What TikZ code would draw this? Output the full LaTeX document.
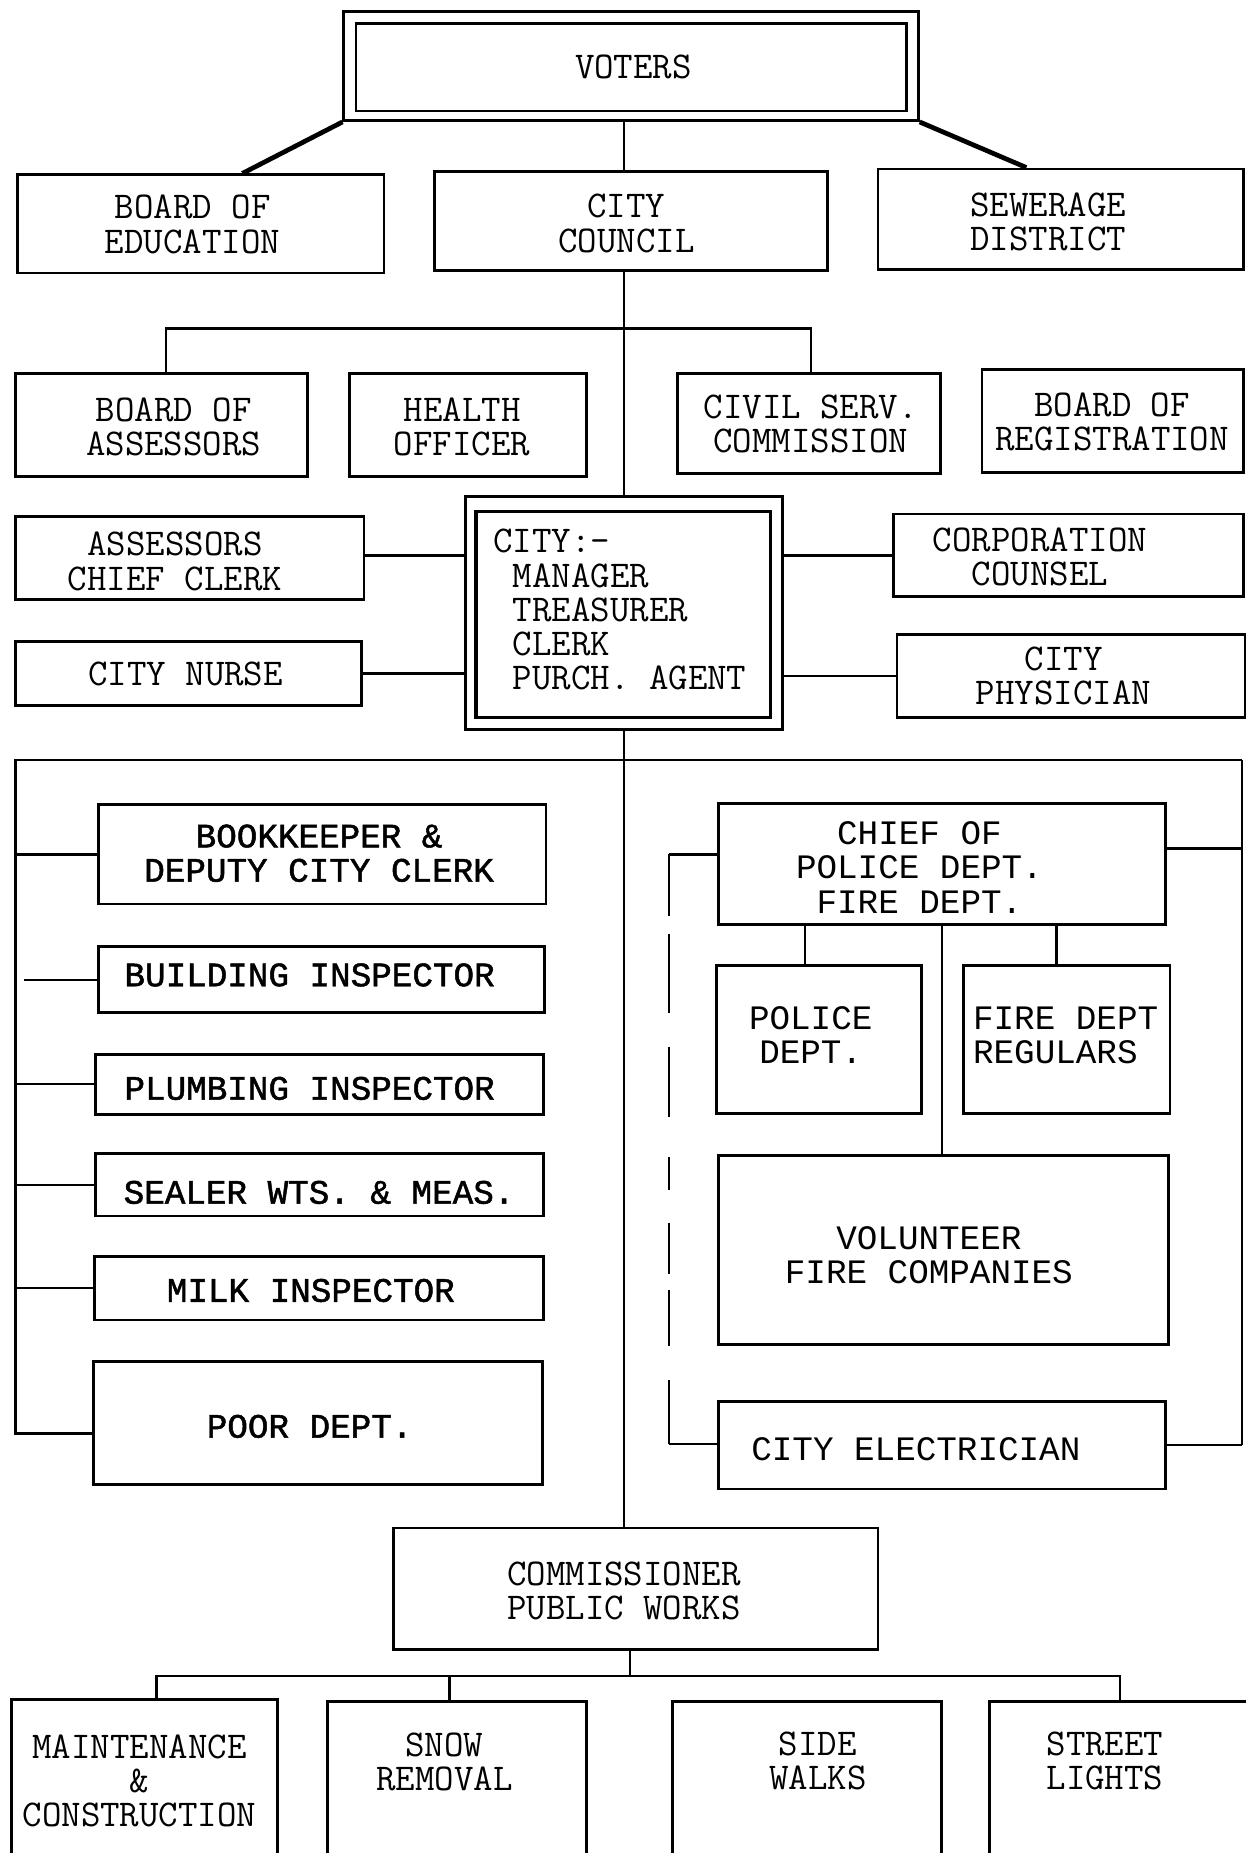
\documentclass[tikz,border=0pt]{standalone}
\usepackage{fontspec}
\newfontfamily\courfont{Liberation Mono}
\newfontfamily\courfontb[FakeBold=1.4]{Liberation Mono}
\usetikzlibrary{calc}
\begin{document}
\begin{tikzpicture}[x=0.5pt,y=-0.5pt,
 box/.style={draw, line width=1.2pt, inner sep=0pt},
 bx/.style n args={2}{box, minimum width=#1*0.5pt, minimum height=#2*0.5pt},
 conn/.style={line width=1pt},
 heavy/.style={line width=2pt},
 tt/.style={font=\fontsize{16}{14.5}\selectfont\ttfamily, align=center, inner sep=0pt},
 cr/.style={font=\fontsize{14.5}{14.5}\selectfont\courfont, align=center, inner sep=0pt},
 crb/.style={font=\fontsize{14.5}{14.5}\selectfont\courfontb, align=center, inner sep=0pt}]
\fill[white] (0,0) rectangle (1054,1568);
\useasboundingbox (0,0) rectangle (1054,1568);

% top
\node[bx={486}{92}] (vout) at (534,56) {};
\node[bx={466}{74}, line width=1pt] (vin) at (534,57) {};
\node[tt] (tvoters) at (536,57) {VOTERS};

\node[bx={310}{83}] (boe) at (170,189.5) {};
\node[tt] (tboe) at (163,190) {BOARD OF\\EDUCATION};
\node[bx={332}{84}] (council) at (534,187) {};
\node[tt] (tcouncil) at (530,189) {CITY\\COUNCIL};
\node[bx={309}{85}] (sewer) at (897.5,185.5) {};
\node[tt] (tsewer) at (887,188) {SEWERAGE\\DISTRICT};

\node[bx={247}{87}] (boa) at (136.5,359.5) {};
\node[tt] (tboa) at (147,361) {BOARD OF\\ASSESSORS};
\node[bx={200}{87}] (health) at (396,359.5) {};
\node[tt] (thealth) at (391,361) {HEALTH\\OFFICER};
\node[bx={223}{85}] (civil) at (684.5,358.5) {};
\node[tt] (tcivil) at (686,359) {CIVIL SERV.\\COMMISSION};
\node[bx={221}{87}] (reg) at (941.5,356.5) {};
\node[tt] (treg) at (941,357) {BOARD OF\\REGISTRATION};

% city manager
\node[bx={268}{197}] (cityout) at (528,518.5) {};
\node[bx={249}{174}, line width=1.5pt] (cityin) at (527.5,520) {};
\node[tt, align=left, anchor=west] (tcity) at (417,516) {CITY:-\\\hphantom{M}MANAGER\\\hphantom{M}TREASURER\\\hphantom{M}CLERK\\\hphantom{M}PURCH. AGENT};

\node[bx={295}{70}] (acc) at (160.5,472) {};
\node[tt] (tacc) at (148,475) {ASSESSORS\\CHIEF CLERK};
\node[bx={293}{54}] (nurse) at (159.5,570) {};
\node[tt] (tnurse) at (157,570) {CITY NURSE};
\node[bx={296}{70}] (corp) at (904,470) {};
\node[tt] (tcorp) at (880,471) {CORPORATION\\COUNSEL};
\node[bx={295}{70}] (phys) at (906.5,572) {};
\node[tt] (tphys) at (900,572) {CITY\\PHYSICIAN};

% left block
\node[bx={379}{84}] (book) at (272.5,723) {};
\node[crb] (tbook) at (270,722) {BOOKKEEPER \&\\DEPUTY CITY CLERK};
\node[bx={378}{56}] (build) at (272,829) {};
\node[crb] (tbuild) at (262,825) {BUILDING INSPECTOR};
\node[bx={379}{51}] (plumb) at (270.5,917.5) {};
\node[crb] (tplumb) at (262,921) {PLUMBING INSPECTOR};
\node[bx={379}{53}] (sealer) at (270.5,1002.5) {};
\node[crb] (tsealer) at (270,1009) {SEALER WTS. \& MEAS.};
\node[bx={380}{54}] (milk) at (270,1090) {};
\node[crb] (tmilk) at (263,1092) {MILK INSPECTOR};
\node[bx={380}{104}] (poor) at (269,1204) {};
\node[crb] (tpoor) at (262,1207) {POOR DEPT.};

% right block
\node[bx={378}{102}] (chief) at (797,731) {};
\node[cr] (tchief) at (778,734) {CHIEF OF\\POLICE DEPT.\\FIRE DEPT.};
\node[bx={174}{125}] (police) at (693,879.5) {};
\node[cr] (tpolice) at (686,876) {POLICE\\DEPT.};
\node[bx={175}{125}] (firereg) at (902.5,879.5) {};
\node[cr, align=left, anchor=west] (tfirereg) at (823,876) {FIRE DEPT\\REGULARS};
\node[bx={381}{160}] (vol) at (798.5,1058) {};
\node[cr] (tvol) at (786,1062) {VOLUNTEER\\FIRE COMPANIES};
\node[bx={378}{74}] (elec) at (797,1223) {};
\node[cr] (telec) at (775,1226) {CITY ELECTRICIAN};

% public works
\node[bx={410}{103}] (comm) at (538,1344.5) {};
\node[tt] (tcomm) at (528,1346) {COMMISSIONER\\PUBLIC WORKS};

\node[bx={225}{180}] (maint) at (122.5,1528) {};
\node[tt] (tmaint) at (118,1507) {MAINTENANCE\\\&\\CONSTRUCTION};
\node[bx={219}{180}] (snow) at (386.5,1530) {};
\node[tt] (tsnow) at (376,1491) {SNOW\\REMOVAL};
\node[bx={228}{180}] (side) at (683,1530) {};
\node[tt] (tside) at (692,1490) {SIDE\\WALKS};
\node[bx={219}{180}] (street) at (946.5,1530) {};
\node[tt] (tstreet) at (935,1490) {STREET\\LIGHTS};

% connectors
\draw[heavy] (vout.south west) -- ($(boe.north)+(35,0)$);
\draw[heavy] (vout.south east) -- ($(sewer.north)+(-29,0)$);
\draw[conn] (cityout.north |- vout.south) -- (cityout.north |- council.north);
\draw[conn] (cityout.north |- council.south) -- (cityout.north);

\coordinate (bar1) at (528,278);
\coordinate (b1) at ($(boa.north)+(4,0)$);
\coordinate (c1) at ($(civil.north)+(2,0)$);
\draw[conn] (b1) -- (b1 |- bar1) -- (c1 |- bar1) -- (c1);

\draw[conn] ([yshift=1pt]acc.east) -- ([yshift=1pt]acc.east -| cityout.west);
\draw[conn] (nurse.east) -- (nurse.east -| cityout.west);
\draw[conn] (corp.west -| cityout.east) -- (corp.west);
\draw[conn] (phys.west -| cityout.east) -- (phys.west);

\draw[conn] (cityout.south) -- (cityout.south |- comm.north);

\coordinate (LT) at (13,643);
\coordinate (RT) at (1051,643);
\coordinate (LB) at (13,1213);
\draw[conn] (RT) -- (LT) -- (LB) -- (LB -| poor.west);
\draw[conn] (LT |- book.west) -- (book.west);
\draw[conn] ($(LT |- build.west)+(7,0)$) -- (build.west);
\draw[conn] (LT |- plumb.west) -- (plumb.west);
\draw[conn] (LT |- sealer.west) -- (sealer.west);
\draw[conn] (LT |- milk.west) -- (milk.west);

\draw[conn] (RT) -- (RT |- elec.east);
\draw[conn] ([yshift=6.5pt]chief.east) -- ([yshift=6.5pt]chief.east -| RT);
\draw[conn] (elec.east) -- (elec.east -| RT);

\coordinate (DT) at (566,723);
\coordinate (DB) at (566,1222);
\draw[conn, line cap=butt] (DT -| chief.west) -- (DT);
\draw[conn, line cap=butt, dash pattern=on 26pt off 7.5pt on 33.5pt off 14.5pt on 29.5pt off 17pt on 14pt off 14pt on 21.5pt off 7pt on 23.5pt off 14.5pt on 28pt off 10pt] (DT) -- (DB);
\draw[conn] (DB) -- (DB -| elec.west);

\draw[conn] ($(police.north)+(-12,0)$) coordinate (pd) -- (pd |- chief.south);
\draw[conn] ($(firereg.north)+(-8.5,0)$) coordinate (fd) -- (fd |- chief.south);
\draw[conn] (chief.south) -- (chief.south |- vol.north);

\coordinate (cb) at (533,1418);
\coordinate (m1) at ($(maint.north)+(10,0)$);
\coordinate (s1) at ($(snow.north)+(-6,0)$);
\coordinate (st1) at ($(street.north)+(1,0)$);
\draw[conn] (comm.south -| cb) -- (cb);
\draw[conn] (m1) -- (m1 |- cb) -- (st1 |- cb) -- (st1);
\draw[conn] (s1) -- (s1 |- cb);
\end{tikzpicture}
\end{document}
